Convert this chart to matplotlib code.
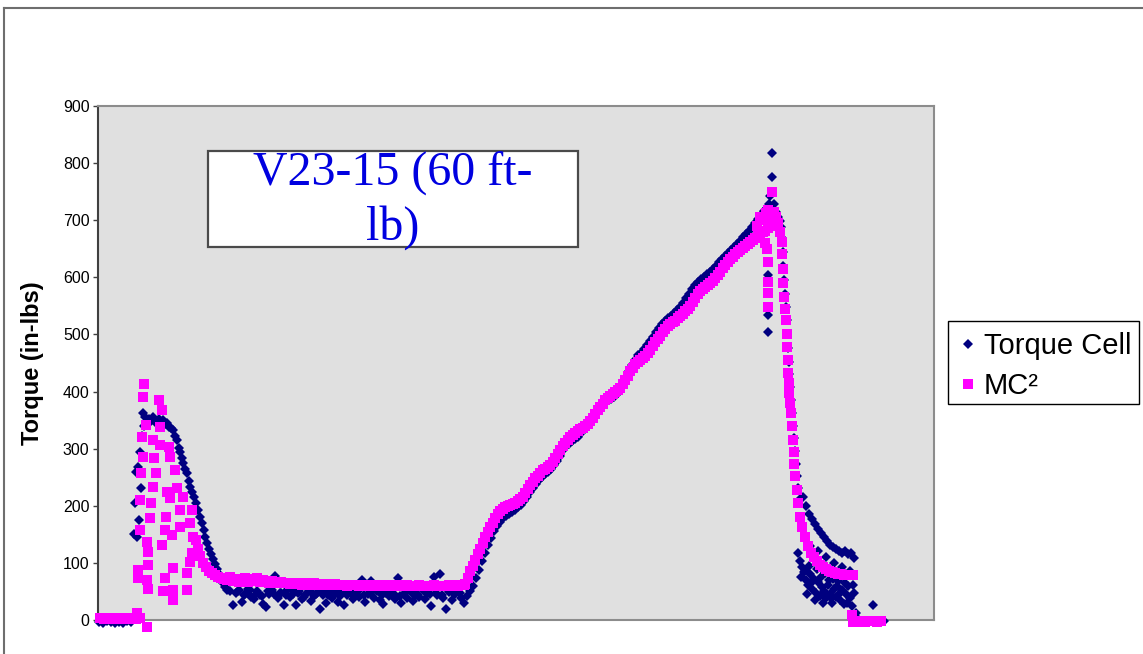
import matplotlib
matplotlib.use("Agg")
import matplotlib.pyplot as plt
from matplotlib.patches import Rectangle
from matplotlib.lines import Line2D

# ---------------- data (time in arbitrary sample units, torque in in-lbs) -------------
# Torque Cell series
tc_start_t = [99, 103, 107, 111, 115, 119, 123, 127, 131]
tc_start_v = [-3, -5, -2, -4, -6, -3, -5, -2, -4]

tc_peak_t = [134, 135, 136, 137, 138, 139, 140, 141, 142, 143, 144, 145, 147, 149, 151, 153, 155, 157,
             159, 161, 163, 165, 167, 169, 171, 173, 175, 177, 179, 180, 182, 183, 185, 187, 189, 190,
             192, 194, 196, 198, 200, 202, 204, 205, 207, 209, 211, 213, 215, 217, 219, 221, 223, 225,
             227, 230, 233]
tc_peak_v = [150, 205, 260, 145, 268, 175, 295, 231, 322, 362, 340, 356, 347, 352, 348, 355, 350, 344,
             352, 347, 350, 343, 345, 338, 336, 333, 322, 315, 302, 294, 284, 275, 265, 257, 244, 233,
             224, 215, 204, 193, 181, 170, 157, 145, 135, 125, 115, 106, 98, 89, 80, 72, 64, 58,
             53, 50, 26]

tc_flat_t = [236, 239, 242, 245, 248, 251, 254, 257, 260, 263, 266, 269, 272, 275, 278, 281, 284, 287,
             290, 293, 296, 299, 302, 305, 308, 311, 314, 317, 320, 323, 326, 329, 332, 335, 338, 341,
             344, 347, 350, 353, 356, 359, 362, 365, 368, 371, 374, 377, 380, 383, 386, 389, 392, 395,
             398, 401, 404, 407, 410, 413, 416, 419, 422, 425, 428, 431, 434, 437, 440, 443, 446, 449,
             452, 455, 458, 461, 464]
tc_flat_v = [47, 52, 31, 45, 55, 40, 36, 50, 44, 28, 23, 46, 52, 77, 38, 47, 26, 53,
             41, 45, 27, 50, 37, 44, 54, 34, 42, 48, 19, 43, 29, 51, 38, 46, 31, 49,
             27, 44, 55, 36, 47, 41, 70, 31, 45, 69, 39, 51, 35, 28, 48, 42, 54, 37,
             74, 30, 46, 39, 52, 34, 44, 41, 55, 36, 47, 25, 76, 43, 80, 38, 20, 49,
             35, 45, 53, 39, 30]

tc_flat2_t = [238, 244, 250, 256, 262, 268, 274, 280, 286, 292, 298, 304, 310, 316, 322, 328, 334, 340,
              346, 352, 358, 364, 370, 376, 382, 388, 394, 400, 406, 412, 418, 424, 430, 436, 442, 448,
              454, 460]
tc_flat2_v = [50, 44, 53, 46, 42, 51, 45, 48, 43, 52, 47, 41, 50, 45, 49, 44, 53, 42,
              48, 46, 51, 43, 47, 52, 44, 49, 45, 42, 50, 47, 43, 51, 46, 48, 44, 52,
              45, 47]

tc_rise_t = [467, 470, 473, 476, 479, 482, 485, 488, 491, 494, 497, 500, 503, 506, 509, 512, 515, 518,
             521, 524, 527, 530, 533, 536, 539, 542, 545, 548, 551, 554, 557, 560, 563, 566, 569, 572,
             575, 578, 581, 584, 587, 590, 593, 596, 599, 602, 605, 608, 611, 614, 617, 620, 623, 626,
             629, 632, 635, 638, 641, 644, 647, 650, 653, 656, 659, 662, 665, 668, 671, 674, 677, 680,
             683, 686, 689, 692, 695, 698, 701, 704, 707, 710, 713, 716, 719, 722, 725, 728, 731, 734,
             737, 740, 743, 746, 749, 752, 755, 758, 761, 764, 767, 769]
tc_rise_v = [42, 50, 60, 74, 88, 103, 118, 132, 144, 155, 165, 172, 178, 182, 186, 189, 193, 197,
             202, 208, 216, 224, 232, 239, 245, 251, 256, 260, 265, 271, 279, 288, 297, 304, 309, 313,
             317, 321, 327, 334, 342, 350, 358, 365, 372, 378, 382, 385, 387, 390, 395, 402, 412, 424,
             436, 447, 456, 464, 468, 474, 481, 488, 496, 504, 511, 518, 524, 529, 533, 537, 542, 548,
             555, 563, 571, 579, 586, 592, 597, 601, 605, 609, 614, 620, 626, 632, 638, 643, 648, 653,
             658, 664, 670, 676, 682, 688, 695, 702, 709, 716, 722, 728]

tc_top_t = [770, 772, 772, 774, 776, 778, 780, 768, 768, 768]
tc_top_v = [742, 776, 818, 728, 715, 705, 698, 604, 534, 504]

tc_drop_t = [781, 782, 783, 783, 784, 785, 786, 787, 787, 788, 789, 789, 790, 791, 792, 793, 794, 795,
             796, 797, 798, 800]
tc_drop_v = [688, 668, 645, 620, 595, 570, 548, 525, 500, 476, 452, 430, 408, 385, 362, 340, 318, 296,
             274, 252, 232, 212]

tc_tail_t = [803, 806, 809, 812, 815, 818, 821, 824, 827, 830, 833, 836, 839, 842, 845, 848, 851, 854,
             798, 800, 802, 804, 806, 808, 810, 812, 814, 816, 818, 820, 822, 824, 826, 828, 830, 832,
             834, 836, 838, 840, 842, 844, 846, 848, 850, 852, 854, 856,
             810, 818, 826, 834, 842, 850,
             801, 805, 809, 813, 817, 821, 825, 829, 833, 837, 841, 845, 849, 853, 807, 815, 823, 831,
             839, 847]
tc_tail_v = [215, 200, 186, 176, 168, 160, 152, 145, 138, 132, 128, 124, 120, 118, 121, 115, 118, 108,
             118, 104, 92, 84, 70, 62, 80, 55, 72, 48, 66, 42, 58, 50, 38, 62, 45, 30,
             55, 40, 68, 35, 52, 28, 45, 60, 38, 25, 48, 12,
             130, 120, 110, 100, 92, 85,
             75, 88, 95, 68, 90, 75, 82, 70, 72, 60, 75, 65, 80, 62, 45, 35, 30, 38,
             45, 30]

tc_end_t = [858, 862, 866, 870, 873, 876, 880, 884]
tc_end_v = [2, -2, -4, -1, 27, -3, -2, -1]

# MC² series
mc_start_t = [100, 104, 108, 112, 116, 120, 124, 128, 132, 136, 137, 140, 147]
mc_start_v = [3, 2, 4, 2, 3, 2, 3, 2, 4, 2, 12, 3, -12]

mc_peak_t = [144, 143, 159, 162, 146, 142, 160, 153, 160, 169, 143, 154, 170, 141, 156, 175, 153, 167,
             177, 140, 151, 170, 183, 180, 192, 150, 166, 140, 165, 180, 190, 172, 147, 162, 193, 148,
             192, 190, 138, 148, 173, 138, 147, 165, 187, 148, 163, 173, 187, 173]
mc_peak_v = [413, 390, 385, 368, 341, 320, 338, 315, 306, 303, 285, 283, 285, 257, 257, 263, 233, 224,
             231, 210, 205, 214, 215, 193, 193, 179, 180, 158, 158, 163, 170, 149, 137, 131, 145, 119,
             117, 102, 88, 96, 91, 74, 70, 74, 82, 54, 51, 53, 53, 35]

mc_fall_t = [196, 198, 200, 203, 206, 209, 212, 215, 218, 221, 224, 227, 230, 233, 236, 239]
mc_fall_v = [140, 125, 112, 100, 92, 86, 82, 78, 76, 74, 72, 70, 75, 68, 72, 66]

mc_flat_t = [242, 245, 248, 251, 254, 257, 260, 263, 266, 269, 272, 275, 278, 281, 284, 287, 290, 293,
             296, 299, 302, 305, 308, 311, 314, 317, 320, 323, 326, 329, 332, 335, 338, 341, 344, 347,
             350, 353, 356, 359, 362, 365, 368, 371, 374, 377, 380, 383, 386, 389, 392, 395, 398, 401,
             404, 407, 410, 413, 416, 419, 422, 425, 428, 431, 434, 437, 440, 443, 446, 449, 452, 455,
             458, 461, 464]
mc_flat_v = [70, 74, 67, 71, 69, 73, 66, 70, 68, 65, 69, 66, 64, 67, 64, 65, 63, 65,
             63, 64, 62, 64, 63, 62, 64, 62, 63, 61, 63, 62, 61, 63, 62, 61, 62, 60,
             62, 61, 61, 60, 62, 61, 60, 61, 60, 62, 60, 61, 60, 61, 60, 60, 61, 60,
             59, 61, 60, 60, 59, 61, 60, 60, 59, 60, 61, 60, 60, 59, 60, 61, 60, 61,
             60, 61, 62]

mc_rise_t = [465, 467.5, 470, 472.5, 475, 477.5, 480, 482.5, 485, 487.5, 490, 492.5, 495, 497.5, 500,
             502.5, 505, 507.5, 510, 512.5, 515, 517.5, 520, 522.5, 525, 527.5, 530, 532.5, 535, 537.5,
             540, 542.5, 545, 547.5, 550, 552.5, 555, 557.5, 560, 562.5, 565, 567.5, 570, 572.5, 575,
             577.5, 580, 582.5, 585, 587.5, 590, 592.5, 595, 597.5, 600, 602.5, 605, 607.5, 610, 612.5,
             615, 617.5, 620, 622.5, 625, 627.5, 630, 632.5, 635, 637.5, 640, 642.5, 645, 647.5, 650,
             652.5, 655, 657.5, 660, 662.5, 665, 667.5, 670, 672.5, 675, 677.5, 680, 682.5, 685, 687.5,
             690, 692.5, 695, 697.5, 700, 702.5, 705, 707.5, 710, 712.5, 715, 717.5, 720, 722.5, 725,
             727.5, 730, 732.5, 735, 737.5, 740, 742.5, 745, 747.5, 750, 752.5, 755, 757.5, 760, 762.5,
             765, 767.5, 770, 772.5, 775, 777.5]
mc_rise_v = [63, 74, 85, 95, 105, 115, 125, 135, 145, 154, 162, 170, 178, 185, 190,
             194, 197, 199, 201, 203, 205, 208, 211, 216, 222, 229, 236, 242, 248, 253,
             258, 262, 265, 268, 272, 277, 283, 290, 297, 304, 310, 315, 320, 324, 328,
             331, 334, 337, 340, 344, 348, 354, 360, 367, 373, 379, 385, 389, 393, 396,
             399, 402, 406, 413, 420, 428, 436, 442, 448, 452, 456, 459, 463, 468, 473,
             480, 486, 492, 498, 504, 510, 514, 518, 521, 524, 528, 532, 536, 541, 545,
             550, 556, 563, 570, 576, 580, 583, 586, 590, 594, 598, 604, 610, 616, 622,
             627, 632, 636, 640, 644, 648, 651, 655, 658, 662, 665, 668, 672, 675, 679,
             682, 686, 690, 693, 695, 690]

mc_top_t = [757, 760, 763, 766, 768, 771, 772, 774, 776, 778, 780, 765, 767, 768, 768, 768, 768]
mc_top_v = [690, 705, 700, 712, 718, 705, 750, 715, 705, 695, 680, 660, 650, 627, 592, 573, 548]

mc_drop_t = [782, 782, 783, 783, 784, 785, 786, 787, 787, 788, 788, 789, 789, 790, 791, 792, 793, 794,
             794, 795, 797, 798, 800, 802, 805, 808, 811, 814, 817, 820, 823, 826, 829, 832, 835, 838,
             841, 844, 847, 850, 853]
mc_drop_v = [662, 640, 615, 590, 566, 545, 525, 500, 478, 455, 432, 415, 397, 380, 362, 340, 315, 295,
             274, 252, 228, 205, 180, 162, 145, 130, 118, 110, 103, 97, 93, 89, 86, 84, 82, 81,
             80, 79, 78, 78, 79]

mc_end_t = [852, 853, 857, 861, 865, 869, 873, 877, 881]
mc_end_v = [8, -4, -3, -2, -3, -2, -2, -3, -2]

tc_t = (tc_start_t + tc_peak_t + tc_flat_t + tc_flat2_t + tc_rise_t + tc_top_t + tc_drop_t
        + tc_tail_t + tc_end_t)
tc_v = (tc_start_v + tc_peak_v + tc_flat_v + tc_flat2_v + tc_rise_v + tc_top_v + tc_drop_v
        + tc_tail_v + tc_end_v)
mc_t = mc_start_t + mc_peak_t + mc_fall_t + mc_flat_t + mc_rise_t + mc_top_t + mc_drop_t + mc_end_t
mc_v = mc_start_v + mc_peak_v + mc_fall_v + mc_flat_v + mc_rise_v + mc_top_v + mc_drop_v + mc_end_v

y_ticks = [0, 100, 200, 300, 400, 500, 600, 700, 800, 900]
series_labels = ["Torque Cell", "MC²"]
title_lines = ["V23-15 (60 ft-", "lb)"]
y_label = "Torque (in-lbs)"

# ---------------- figure ----------------
W, H = 1143, 654
fig = plt.figure(figsize=(W / 100, H / 100), dpi=100)
fig.patch.set_facecolor("white")

ax = fig.add_axes([98 / W, 34 / H, 836 / W, 514 / H])
ax.set_facecolor("#E0E0E0")
ax.set_xlim(98, 934)
ax.set_ylim(0, 900)

ax.plot(tc_t, tc_v, linestyle="none", marker="D", markersize=5.1, color="#000080",
        markeredgewidth=0, clip_on=False, zorder=3, label=series_labels[0])
ax.plot(mc_t, mc_v, linestyle="none", marker="s", markersize=7.8, color="#FF00FF",
        markeredgewidth=0, clip_on=False, zorder=4, label=series_labels[1])

ax.set_yticks(y_ticks)
ax.set_xticks([])
ax.tick_params(axis="y", direction="out", length=3.6, width=1, color="#404040",
               labelsize=11.5, pad=2.5)
for lab in ax.get_yticklabels():
    lab.set_family("Liberation Sans")
for s in ["top", "right", "bottom"]:
    ax.spines[s].set_color("#8C8C8C")
    ax.spines[s].set_linewidth(1.5)
ax.spines["left"].set_color("#404040")
ax.spines["left"].set_linewidth(1.5)

fig.text(33 / W, 1 - 363 / H, y_label, rotation=90, ha="center", va="center",
         fontsize=17, fontweight="bold", family="Liberation Sans")

# title box
fig.add_artist(Rectangle((208 / W, 1 - 247 / H), 370 / W, 96 / H, transform=fig.transFigure,
                         facecolor="white", edgecolor="#4A4A4A", linewidth=1.6, zorder=5))
fig.text(393 / W, 1 - 185 / H, title_lines[0], ha="center", va="baseline", fontsize=34.5,
         family="Liberation Serif", color="#0000E0", zorder=6)
fig.text(393 / W, 1 - 240 / H, title_lines[1], ha="center", va="baseline", fontsize=34.5,
         family="Liberation Serif", color="#0000E0", zorder=6)

# outer frame
fig.add_artist(Line2D([4 / W, 1], [1 - 8 / H, 1 - 8 / H], transform=fig.transFigure,
                      color="#6E6E6E", linewidth=1.5))
fig.add_artist(Line2D([4 / W, 4 / W], [0, 1 - 8 / H], transform=fig.transFigure,
                      color="#6E6E6E", linewidth=1.5))

# legend frame + entries
fig.add_artist(Rectangle((948 / W, 1 - 404 / H), 191 / W, 83 / H, transform=fig.transFigure,
                         facecolor="white", edgecolor="black", linewidth=1.0, zorder=5))
leg = fig.legend(loc="upper left", bbox_to_anchor=(956 / W, 1 - 332 / H),
                 bbox_transform=fig.transFigure, borderaxespad=0, borderpad=0, frameon=False,
                 prop={"family": "Liberation Sans", "size": 21},
                 handlelength=0.82, handletextpad=0.14, labelspacing=0.42, markerscale=1.0)
leg.set_zorder(6)

fig.savefig("out.png", dpi=100)
